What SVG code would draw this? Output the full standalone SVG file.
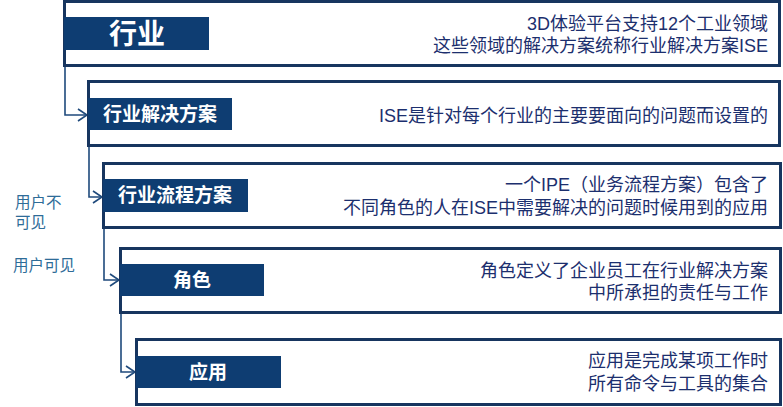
<svg xmlns="http://www.w3.org/2000/svg" width="783" height="407" viewBox="0 0 783 407">
<defs>
<style>
.box{fill:#ffffff;stroke:#17355f;stroke-width:3}
.lab{fill:#0e3d72}
.lt{fill:#ffffff;font-family:"Liberation Sans","Noto Sans CJK SC",sans-serif;font-weight:bold;text-anchor:middle}
.desc{fill:#1c2f6e;font-family:"Liberation Sans","Noto Sans CJK SC",sans-serif;font-size:18px;text-anchor:end}
.side{fill:#2e6c98;font-family:"Liberation Sans","Noto Sans CJK SC",sans-serif;font-size:15.5px}
.con{fill:none;stroke:#1f4a7c;stroke-width:1.6}
</style>
<marker id="arr" markerWidth="12" markerHeight="14" refX="10" refY="7" orient="auto" markerUnits="userSpaceOnUse">
<path d="M1,1 L10,7 L1,13" fill="none" stroke="#1f4a7c" stroke-width="1.6"/>
</marker>
</defs>
<rect width="783" height="407" fill="#ffffff"/>
<g id="connectors">
<path class="con" d="M65,66 V115 H87" marker-end="url(#arr)"/>
<path class="con" d="M89,146 V197 H102" marker-end="url(#arr)"/>
<path class="con" d="M104,228 V280 H119" marker-end="url(#arr)"/>
<path class="con" d="M121,313 V372 H135" marker-end="url(#arr)"/>
</g>
<g id="node-hangye">
<rect class="box" x="64.5" y="1.5" width="715" height="64"/>
<rect class="lab" x="64" y="17" width="145" height="33"/>
<text class="lt" x="137" y="44" font-size="28">行业</text>
<text class="desc" x="768" y="29.5"><tspan x="768">3D体验平台支持12个工业领域</tspan><tspan x="768" dy="22.5">这些领域的解决方案统称行业解决方案ISE</tspan></text>
</g>
<g id="node-ise">
<rect class="box" x="88.5" y="81.5" width="691" height="64"/>
<rect class="lab" x="88" y="98" width="144" height="32"/>
<text class="lt" x="160" y="121" font-size="19">行业解决方案</text>
<text class="desc" x="768" y="122">ISE是针对每个行业的主要要面向的问题而设置的</text>
</g>
<g id="node-ipe">
<rect class="box" x="103.5" y="163.5" width="677" height="64"/>
<rect class="lab" x="103" y="179" width="145" height="33"/>
<text class="lt" x="175" y="202" font-size="19">行业流程方案</text>
<text class="desc" x="768" y="190.5"><tspan x="768">一个IPE（业务流程方案）包含了</tspan><tspan x="768" dy="23">不同角色的人在ISE中需要解决的问题时候用到的应用</tspan></text>
</g>
<g id="node-role">
<rect class="box" x="120.5" y="248.5" width="660" height="64"/>
<rect class="lab" x="120" y="264" width="144" height="32"/>
<text class="lt" x="192" y="287" font-size="19">角色</text>
<text class="desc" x="768" y="276.5"><tspan x="768">角色定义了企业员工在行业解决方案</tspan><tspan x="768" dy="22.5">中所承担的责任与工作</tspan></text>
</g>
<g id="node-app">
<rect class="box" x="136.5" y="339.5" width="644" height="65"/>
<rect class="lab" x="136" y="356" width="145" height="32"/>
<text class="lt" x="208" y="379" font-size="19">应用</text>
<text class="desc" x="768" y="366.5"><tspan x="768">应用是完成某项工作时</tspan><tspan x="768" dy="23">所有命令与工具的集合</tspan></text>
</g>
<g id="side-labels">
<text class="side" x="15" y="208"><tspan x="15">用户不</tspan><tspan x="15" dy="20">可见</tspan></text>
<text class="side" x="13" y="271">用户可见</text>
</g>
</svg>
